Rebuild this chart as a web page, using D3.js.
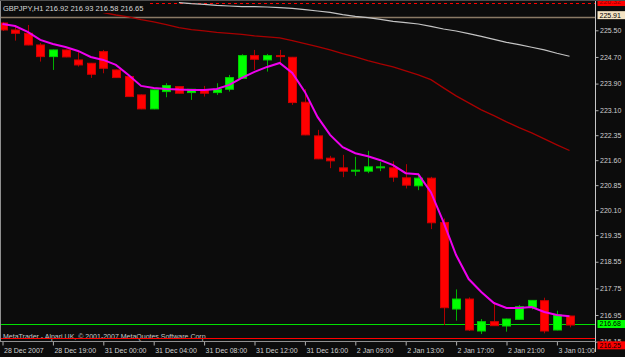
<!DOCTYPE html>
<html>
<head>
<meta charset="utf-8">
<script src="https://cdn.jsdelivr.net/npm/d3@7/dist/d3.min.js"></script>
<style>
  html, body { margin: 0; padding: 0; background: #0c0c0c; }
  svg { display: block; }
</style>
</head>
<body>
<div id="chart"></div>
<script>
// ---------------- data ----------------
const symbol = 'GBPJPY,H1';
const lastBar = ['216.92', '216.93', '216.58', '216.65'];

const open  = [225.72, 225.51, 225.41, 225.06, 224.71, 224.91, 224.61, 224.51, 224.86, 224.31, 224.11, 223.56, 223.14, 223.66, 223.81, 223.63, 223.71, 223.63, 223.73, 224.06, 224.74, 224.61, 224.74, 224.69, 223.34, 222.33, 221.66, 221.37, 221.27, 221.27, 221.37, 221.37, 221.07, 220.83, 221.06, 219.73, 217.13, 217.43, 216.47, 216.75, 216.62, 216.82, 217.18, 217.38, 216.50, 216.92];
const high  = [225.75, 225.66, 225.66, 225.12, 224.92, 224.92, 224.89, 224.52, 224.91, 224.32, 224.12, 223.57, 223.72, 223.91, 223.82, 223.74, 223.83, 223.91, 224.16, 224.78, 224.91, 224.79, 224.91, 224.70, 223.73, 222.51, 221.73, 221.76, 221.70, 221.88, 221.55, 221.57, 221.48, 221.15, 221.10, 219.85, 217.72, 217.48, 216.83, 217.30, 216.84, 217.25, 217.40, 217.47, 217.08, 216.93];
const low   = [225.48, 225.19, 225.05, 224.56, 224.31, 224.69, 224.41, 224.07, 224.21, 224.07, 223.50, 223.13, 223.13, 223.49, 223.60, 223.41, 223.51, 223.56, 223.66, 224.05, 224.31, 224.26, 224.46, 223.26, 222.35, 221.63, 221.36, 221.09, 221.13, 221.21, 221.27, 220.95, 220.75, 220.70, 219.53, 216.65, 216.78, 216.47, 216.38, 216.63, 216.45, 216.81, 217.12, 216.40, 216.49, 216.58];
const close = [225.51, 225.41, 225.06, 224.71, 224.91, 224.70, 224.46, 224.18, 224.36, 224.08, 223.51, 223.14, 223.71, 223.84, 223.61, 223.73, 223.61, 223.73, 224.08, 224.74, 224.63, 224.74, 224.71, 223.33, 222.36, 221.64, 221.58, 221.27, 221.30, 221.40, 221.40, 221.09, 220.85, 221.06, 219.72, 217.17, 217.43, 216.50, 216.75, 216.63, 216.83, 217.20, 217.39, 216.47, 216.95, 216.65];

// moving averages (null = off screen / hidden)
const maFast = [225.69, 225.63, 225.45, 225.21, 225.09, 225.00, 224.88, 224.70, 224.61, 224.46, 224.16, 223.83, 223.77, 223.74, 223.72, 223.71, 223.71, 223.74, 223.86, 224.07, 224.25, 224.40, 224.52, 224.22, 223.65, 222.90, 222.36, 221.99, 221.81, 221.72, 221.60, 221.45, 221.21, 221.18, 220.64, 219.74, 218.75, 218.03, 217.64, 217.31, 217.16, 217.16, 217.19, 217.04, 216.95, 216.91];
const maSlow = [null, null, null, null, null, null, null, null, 226.03, 225.96, 225.90, 225.82, 225.75, 225.67, 225.58, 225.52, 225.48, 225.44, 225.41, 225.38, 225.33, 225.30, 225.27, 225.19, 225.10, 225.01, 224.91, 224.80, 224.70, 224.59, 224.49, 224.40, 224.28, 224.16, 224.02, 223.77, 223.53, 223.32, 223.11, 222.94, 222.75, 222.58, 222.42, 222.24, 222.06, 221.89];
const maSlowest = [null, null, null, null, null, null, null, null, null, null, null, null, null, null, 226.33, 226.30, 226.28, 226.25, 226.23, 226.21, 226.21, 226.20, 226.18, 226.16, 226.12, 226.08, 226.04, 225.97, 225.92, 225.88, 225.83, 225.77, 225.73, 225.69, 225.62, 225.54, 225.48, 225.40, 225.32, 225.23, 225.14, 225.07, 224.99, 224.91, 224.81, 224.72];

const timeLabels = ['28 Dec 2007', '28 Dec 19:00', '31 Dec 00:00', '31 Dec 04:00', '31 Dec 08:00', '31 Dec 12:00', '31 Dec 16:00', '2 Jan 09:00', '2 Jan 13:00', '2 Jan 17:00', '2 Jan 21:00', '3 Jan 01:00'];
const priceTicks = [225.50, 224.70, 223.90, 223.10, 222.35, 221.60, 220.85, 220.10, 219.35, 218.55, 217.75, 216.95, 216.15];

const levelLine = 225.91;
const bidLine = 216.68;
const stopLine = 216.25;
const topLine = 226.32;

// ---------------- layout ----------------
const width = 625;
const height = 357;
const axisX = 595.5;
const axisY = 341.5;
const bg = '#0c0c0c';
const font = '"Liberation Sans", Arial, sans-serif';

const svg = d3.select('#chart').append('svg')
  .attr('width', width)
  .attr('height', height)
  .style('background', bg);

const x = d3.scaleLinear().domain([0, open.length - 1]).range([2.5, 569.5]);
const y = d3.scaleLinear().domain([216.17, 226.41]).range([341, 0]);

const bars = open.map((o, i) => ({ i, o, h: high[i], l: low[i], c: close[i] }));
const py = v => Math.round(y(v)) + 0.5;

// ---------------- price lines ----------------
svg.append('line')
  .attr('x1', 0).attr('x2', axisX)
  .attr('y1', py(levelLine)).attr('y2', py(levelLine))
  .attr('stroke', '#8a7a66').attr('stroke-width', 1.5);

svg.append('line')
  .attr('x1', 0).attr('x2', axisX)
  .attr('y1', py(topLine)).attr('y2', py(topLine))
  .attr('stroke', '#ff0000').attr('stroke-dasharray', '3 3');

svg.append('line')
  .attr('x1', 0).attr('x2', axisX)
  .attr('y1', py(bidLine)).attr('y2', py(bidLine))
  .attr('stroke', '#00e000');

// ---------------- slow moving averages ----------------
const line = d3.line()
  .defined(d => d != null)
  .x((d, i) => x(i))
  .y(d => y(d));

svg.append('path')
  .attr('d', line(maSlowest))
  .attr('fill', 'none')
  .attr('stroke', '#c4c4c4')
  .attr('stroke-width', 1.2);

svg.append('path')
  .attr('d', line(maSlow))
  .attr('fill', 'none')
  .attr('stroke', '#a80000')
  .attr('stroke-width', 1.3);

// ---------------- candles ----------------
const candles = svg.append('g').attr('class', 'candles');

candles.selectAll('line.wick')
  .data(bars)
  .join('line')
  .attr('class', 'wick')
  .attr('x1', d => Math.round(x(d.i)) + 0.5)
  .attr('x2', d => Math.round(x(d.i)) + 0.5)
  .attr('y1', d => y(d.h))
  .attr('y2', d => y(d.l))
  .attr('stroke', d => d.c >= d.o ? '#00b000' : '#b00000')
  .attr('stroke-width', 1);

candles.selectAll('rect.body')
  .data(bars)
  .join('rect')
  .attr('class', 'body')
  .attr('x', d => Math.round(x(d.i)) - 3.5)
  .attr('width', 8)
  .attr('y', d => y(Math.max(d.o, d.c)))
  .attr('height', d => Math.max(1, Math.abs(y(d.o) - y(d.c))))
  .attr('fill', d => d.c >= d.o ? '#00ff00' : '#ff0000')
  .attr('stroke', d => d.c >= d.o ? '#00d000' : '#d00000')
  .attr('stroke-width', 1);

// ---------------- fast moving average ----------------
svg.append('path')
  .attr('d', line(maFast))
  .attr('fill', 'none')
  .attr('stroke', '#ee00ee')
  .attr('stroke-width', 2);

// ---------------- copyright + red line ----------------
svg.append('text')
  .attr('x', 3)
  .attr('y', 338.5)
  .attr('font-family', font)
  .attr('font-size', '7px')
  .attr('fill', '#c8c8c8')
  .text('MetaTrader - Alpari UK, © 2001-2007 MetaQuotes Software Corp.');

svg.append('line')
  .attr('x1', 0).attr('x2', axisX)
  .attr('y1', py(stopLine)).attr('y2', py(stopLine))
  .attr('stroke', '#ff0000');

// ---------------- axes ----------------
const yAxis = svg.append('g')
  .attr('transform', `translate(${axisX},0)`)
  .call(d3.axisRight(y).tickValues(priceTicks).tickFormat(d3.format('.2f')).tickSize(3).tickPadding(1.5));
yAxis.select('.domain').remove();
yAxis.selectAll('line').attr('stroke', '#b0b0b0');
yAxis.selectAll('text')
  .attr('font-family', font)
  .attr('font-size', '7px')
  .attr('fill', '#d0d0d0');

const xAxis = svg.append('g')
  .attr('transform', `translate(0,${axisY})`)
  .call(d3.axisBottom(x)
    .tickValues(timeLabels.map((d, k) => k * 4))
    .tickFormat((d, k) => timeLabels[k])
    .tickSize(4));
xAxis.select('.domain').remove();
xAxis.selectAll('line').attr('stroke', '#b0b0b0');
xAxis.selectAll('text')
  .attr('text-anchor', 'start')
  .attr('x', 1)
  .attr('y', 7)
  .attr('font-family', font)
  .attr('font-size', '7px')
  .attr('fill', '#d0d0d0');

// frame
svg.append('line')
  .attr('x1', axisX).attr('x2', axisX).attr('y1', 0).attr('y2', 352)
  .attr('stroke', '#c8c8c8');
svg.append('line')
  .attr('x1', 0).attr('x2', axisX).attr('y1', axisY).attr('y2', axisY)
  .attr('stroke', '#909090');
svg.append('line')
  .attr('x1', 0.5).attr('x2', 0.5).attr('y1', 0).attr('y2', axisY)
  .attr('stroke', '#909090');

// ---------------- price labels on the right ----------------
function priceLabel(value, cy, fill, textColor) {
  const g = svg.append('g');
  g.append('rect')
    .attr('x', 597.5).attr('y', cy - 4)
    .attr('width', 30).attr('height', 8)
    .attr('fill', fill);
  g.append('text')
    .attr('x', 599.5).attr('y', cy)
    .attr('dy', '0.35em')
    .attr('font-family', font)
    .attr('font-size', '7px')
    .attr('fill', textColor)
    .text(d3.format('.2f')(value));
}
priceLabel(levelLine, y(levelLine) - 1.5, '#f4e3c4', '#000');
priceLabel(bidLine, y(bidLine), '#00ff00', '#000');
priceLabel(stopLine, y(stopLine) + 7, '#ff0000', '#000');
priceLabel(topLine, y(topLine) - 1, '#ff0000', '#900000');

// ---------------- title ----------------
svg.append('rect')
  .attr('x', 1).attr('y', 0)
  .attr('width', 146).attr('height', 13)
  .attr('fill', bg);
svg.append('text')
  .attr('x', 3)
  .attr('y', 10.5)
  .attr('font-family', font)
  .attr('font-size', '7.5px')
  .attr('fill', '#d8d8d8')
  .text(`${symbol} ${lastBar.join(' ')}`);

svg.append('line')
  .attr('x1', 0).attr('x2', width).attr('y1', 0.5).attr('y2', 0.5)
  .attr('stroke', '#505050');
</script>
</body>
</html>
